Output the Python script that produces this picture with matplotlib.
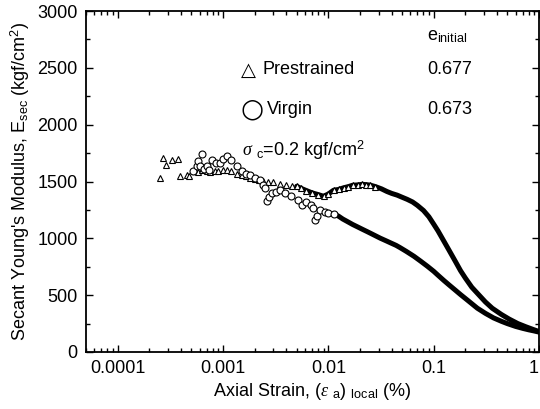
import matplotlib
matplotlib.use("Agg")
import matplotlib.pyplot as plt
import numpy as np
from matplotlib.ticker import MultipleLocator, LogLocator, NullFormatter

plt.rcParams['font.family'] = ['Liberation Sans', 'DejaVu Sans']
plt.rcParams['mathtext.fontset'] = 'custom'
plt.rcParams['mathtext.rm'] = 'Liberation Sans'
plt.rcParams['mathtext.it'] = 'Liberation Serif:italic'
plt.rcParams['mathtext.bf'] = 'Liberation Sans:bold'

# Prestrained specimen (triangles)
pre_strain = [2.5e-4, 2.7e-4, 2.9e-4, 3.3e-4, 3.7e-4, 3.9e-4, 4.5e-4, 4.8e-4, 5.4e-4, 5.8e-4,
              6.3e-4, 7.0e-4, 7.6e-4, 8.3e-4, 9.0e-4, 1.0e-3, 1.1e-3, 1.2e-3, 1.35e-3, 1.5e-3,
              1.65e-3, 1.8e-3, 2.0e-3, 2.2e-3, 2.4e-3, 2.7e-3, 3.0e-3, 3.5e-3, 4.0e-3, 4.5e-3,
              5.0e-3, 5.5e-3, 6.2e-3, 7.0e-3, 8.0e-3, 9.0e-3, 0.010, 0.0112, 0.0125, 0.014,
              0.0155, 0.017, 0.019, 0.021, 0.023, 0.025, 0.028, 0.032, 0.036, 0.040,
              0.045, 0.050, 0.056, 0.063, 0.070, 0.080, 0.090, 0.10, 0.11, 0.125,
              0.14, 0.16, 0.18, 0.20, 0.23, 0.27, 0.31, 0.36, 0.44, 0.52,
              0.63, 0.75, 0.87, 1.0]
pre_E = [1528, 1711, 1641, 1685, 1702, 1545, 1554, 1545, 1589, 1580,
         1600, 1589, 1580, 1595, 1589, 1600, 1598, 1590, 1570, 1554,
         1545, 1528, 1520, 1510, 1502, 1500, 1495, 1480, 1470, 1462,
         1458, 1440, 1420, 1400, 1385, 1370, 1390, 1423, 1430, 1445,
         1455, 1467, 1470, 1475, 1472, 1468, 1455, 1435, 1412, 1395,
         1380, 1362, 1343, 1320, 1290, 1245, 1190, 1125, 1065, 975,
         895, 800, 715, 650, 570, 500, 440, 385, 330, 290,
         250, 222, 200, 180]

# Virgin specimen (circles)
vir_strain = [5.2e-4, 5.6e-4, 5.8e-4, 6.0e-4, 6.3e-4, 6.6e-4, 7.0e-4, 7.4e-4, 7.9e-4, 8.5e-4,
              9.3e-4, 1.0e-3, 1.09e-3, 1.2e-3, 1.35e-3, 1.5e-3, 1.65e-3, 1.8e-3, 2.0e-3, 2.25e-3,
              2.4e-3, 2.5e-3, 2.6e-3, 2.75e-3, 2.9e-3, 3.2e-3, 3.5e-3, 3.9e-3, 4.4e-3, 5.1e-3,
              5.6e-3, 6.2e-3, 6.8e-3, 7.2e-3, 7.5e-3, 7.8e-3, 8.4e-3, 9.2e-3, 0.010, 0.0112,
              0.0125, 0.0137, 0.015, 0.017, 0.019, 0.021, 0.0235, 0.027, 0.031, 0.035,
              0.039, 0.044, 0.048, 0.055, 0.065, 0.075, 0.087, 0.10, 0.11, 0.125,
              0.14, 0.16, 0.18, 0.21, 0.26, 0.31, 0.37, 0.44, 0.50, 0.60,
              0.70, 0.80, 0.90, 1.0]
vir_E = [1589, 1640, 1676, 1632, 1746, 1610, 1640, 1600, 1685, 1660,
         1659, 1700, 1720, 1690, 1640, 1589, 1570, 1554, 1530, 1510,
         1470, 1440, 1327, 1360, 1397, 1410, 1423, 1400, 1370, 1340,
         1292, 1320, 1290, 1266, 1161, 1200, 1248, 1235, 1225, 1215,
         1195, 1170, 1150, 1122, 1100, 1080, 1058, 1030, 1002, 980,
         960, 938, 918, 885, 842, 800, 755, 710, 675, 629,
         590, 545, 505, 455, 385, 340, 300, 270, 250, 225,
         208, 195, 185, 175]

xtick_vals = [1e-4, 1e-3, 1e-2, 1e-1, 1]
xtick_labels = ['0.0001', '0.001', '0.01', '0.1', '1']
ytick_vals = [0, 500, 1000, 1500, 2000, 2500, 3000]

W, H = 540, 409
fig = plt.figure(figsize=(W / 100, H / 100), dpi=100)
L, R, T, B = 86, 539, 11, 352
ax = fig.add_axes([L / W, 1 - B / H, (R - L) / W, (B - T) / H])

px = np.array(pre_strain); py = np.array(pre_E)
vx = np.array(vir_strain); vy = np.array(vir_E)

# dense parts drawn as thick black trace
mp = px >= 0.005
mv = vx >= 0.0105
ax.plot(px[mp], py[mp], '-', color='black', lw=3.6, solid_capstyle='round', zorder=2)
ax.plot(vx[mv], vy[mv], '-', color='black', lw=3.6, solid_capstyle='round', zorder=2)

mp2 = px <= 0.03
mv2 = vx <= 0.0115
ax.plot(px[mp2], py[mp2], linestyle='none', marker='^', ms=4.3, mfc='white', mec='black', mew=0.8, zorder=3)
ax.plot(vx[mv2], vy[mv2], linestyle='none', marker='o', ms=5.0, mfc='white', mec='black', mew=0.8, zorder=3)

ax.set_xscale('log')
ax.set_xlim(5e-5, 1.0)
ax.set_ylim(0, 3000)
ax.set_xticks(xtick_vals)
ax.set_xticklabels(xtick_labels)
ax.get_xticklabels()[-1].set_horizontalalignment('right')
ax.xaxis.set_minor_locator(LogLocator(base=10, subs=np.arange(2, 10)))
ax.xaxis.set_minor_formatter(NullFormatter())
ax.set_yticks(ytick_vals)
ax.yaxis.set_minor_locator(MultipleLocator(250))

for s in ax.spines.values():
    s.set_linewidth(1.3)
ax.tick_params(which='both', direction='in', top=True, right=True, labelsize=13, width=1.0)
ax.tick_params(which='major', length=5, pad=6)
ax.tick_params(which='minor', length=3)

ax.set_ylabel(r"Secant Young's Modulus, E$_{\rm sec}$ (kgf/cm$^2$)", fontsize=13, labelpad=4)
ax.set_xlabel(r"Axial Strain, ($\varepsilon$ $_{\rm a}$) $_{\rm local}$ (%)", fontsize=13, labelpad=3)

def axc(x, y):
    return ((x - L) / (R - L), (B - y) / (B - T))

ax.text(*axc(427, 36), r"e$_{\rm initial}$", transform=ax.transAxes, fontsize=13, va='center', ha='left')
ax.text(*axc(241, 70), "\u25B3", transform=ax.transAxes, fontsize=14, va='center', ha='left',
        family=['DejaVu Sans'])
ax.text(*axc(262, 70), "Prestrained", transform=ax.transAxes, fontsize=13, va='center', ha='left')
ax.text(*axc(427, 70), "0.677", transform=ax.transAxes, fontsize=13, va='center', ha='left')
ax.text(*axc(240, 110), "\u25CB", transform=ax.transAxes, fontsize=19, va='center', ha='left',
        family=['DejaVu Sans'])
ax.text(*axc(267, 110), "Virgin", transform=ax.transAxes, fontsize=13, va='center', ha='left')
ax.text(*axc(427, 110), "0.673", transform=ax.transAxes, fontsize=13, va='center', ha='left')
ax.text(*axc(242, 150), r"$\sigma$ $_{\rm c}$=0.2 kgf/cm$^2$", transform=ax.transAxes, fontsize=13,
        va='center', ha='left')

fig.savefig('out.png', dpi=100)
